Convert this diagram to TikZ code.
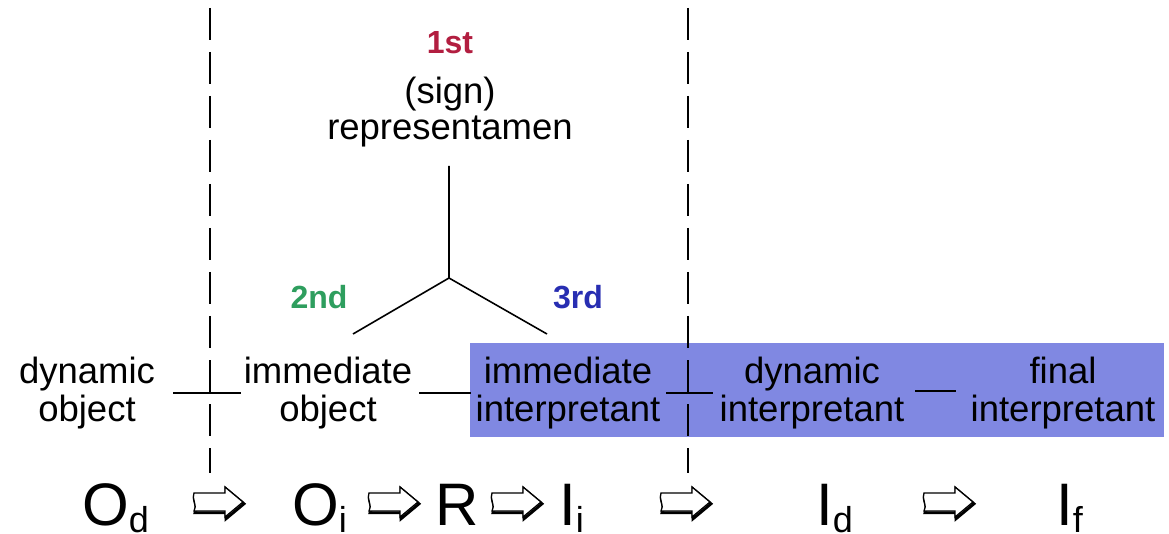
\documentclass[tikz,border=0pt]{standalone}
\usepackage{fontspec}
\setmainfont{Liberation Sans}
\definecolor{boxblue}{RGB}{128,136,226}
\definecolor{firstc}{RGB}{178,30,64}
\definecolor{secondc}{RGB}{46,158,94}
\definecolor{thirdc}{RGB}{40,46,178}
\newcommand{\lowsub}[1]{\raisebox{-7.5pt}{\fontsize{36}{36}\selectfont #1}}
\begin{document}
\begin{tikzpicture}[x=1pt,y=-1pt,
  lbl/.style={font=\fontsize{36.5}{38}\selectfont, align=center, inner sep=0},
  big/.style={font=\fontsize{60}{60}\selectfont, anchor=base west, inner sep=0, text depth=0pt},
  ordinal/.style={font=\bfseries\fontsize{32}{32}\selectfont, inner sep=0},
  divider/.style={line width=2pt, dash pattern=on 32pt off 12pt},
  link/.style={line width=1.8pt},
  harrow/.pic={
    \draw[line width=2.8pt, shift={(1.0,1.8)}, line join=miter]
      (0,-9) -- (31,-9) -- (31,-15) -- (49,0) -- (31,15) -- (31,9) -- (0,9)
      .. controls (4,4) and (-3,-4) .. (0,-9) -- cycle;
    \filldraw[fill=white, draw=black, line width=1.3pt, line join=miter]
      (0,-9) -- (31,-9) -- (31,-15) -- (49,0) -- (31,15) -- (31,9) -- (0,9)
      .. controls (4,4) and (-3,-4) .. (0,-9) -- cycle;
  }]
\useasboundingbox (0,0) rectangle (1169,534);
\fill[white] (0,0) rectangle (1169,534);
% blue band
\fill[boxblue] (470,343) rectangle (1164,437);
% dashed dividers
\coordinate (d1top) at (210,8);
\coordinate (d1bot) at (210,473);
\coordinate (d2top) at (688,8);
\coordinate (d2bot) at (688,473);
\draw[divider] (d1top) -- (d1bot);
\draw[divider] (d2top) -- (d2bot);
% top labels
\node[ordinal, text=firstc] (first) at (450,43) {1st};
\node[lbl] (sign) at (450,94) {(sign)};
\node[lbl] (rep) at (450,131) {representamen};
\node[ordinal, text=secondc] (second) at (319,297) {2nd};
\node[ordinal, text=thirdc] (third) at (578,297) {3rd};
% Y shape
\coordinate (ytop) at (449,166);
\coordinate (hub) at (449,278);
\coordinate (yleft) at (353,334);
\coordinate (yright) at (547,334);
\draw[link, line width=1.6pt] (ytop) -- (hub) -- (yleft);
\draw[link, line width=1.6pt] (hub) -- (yright);
% row of terms
\node[lbl] (dynobj) at (87,393) {dynamic\\object};
\node[lbl] (immobj) at (328,393) {immediate\\object};
\node[lbl] (imminterp) at (568,393) {immediate\\interpretant};
\node[lbl] (dyninterp) at (812,393) {dynamic\\interpretant};
\node[lbl] (fininterp) at (1063,393) {final\\interpretant};
% connectors
\coordinate (c1a) at (173,393); \coordinate (c1b) at (241,393);
\coordinate (c2a) at (419,393); \coordinate (c2b) at (471,393);
\coordinate (c3a) at (666,393); \coordinate (c3b) at (713,393);
\coordinate (c4a) at (915,391); \coordinate (c4b) at (956,391);
\draw[link] (c1a) -- (c1b);
\draw[link] (c2a) -- (c2b);
\draw[link] (c3a) -- (c3b);
\draw[link] (c4a) -- (c4b);
% bottom formula row
\node[big] (Od) at (82,525) {O\lowsub{d}};
\node[big] (Oi) at (292,525) {O\lowsub{i}};
\node[big] (R) at (435,525) {R};
\node[big] (Ii) at (559,525) {I\lowsub{i}};
\node[big] (Id) at (816,525) {I\lowsub{d}};
\node[big] (If) at (1056,525) {I\lowsub{f}};
\pic at (194,502) {harrow};
\pic at (369,502) {harrow};
\pic at (492,502) {harrow};
\pic at (661,502) {harrow};
\pic at (924,502) {harrow};
\end{tikzpicture}
\end{document}
